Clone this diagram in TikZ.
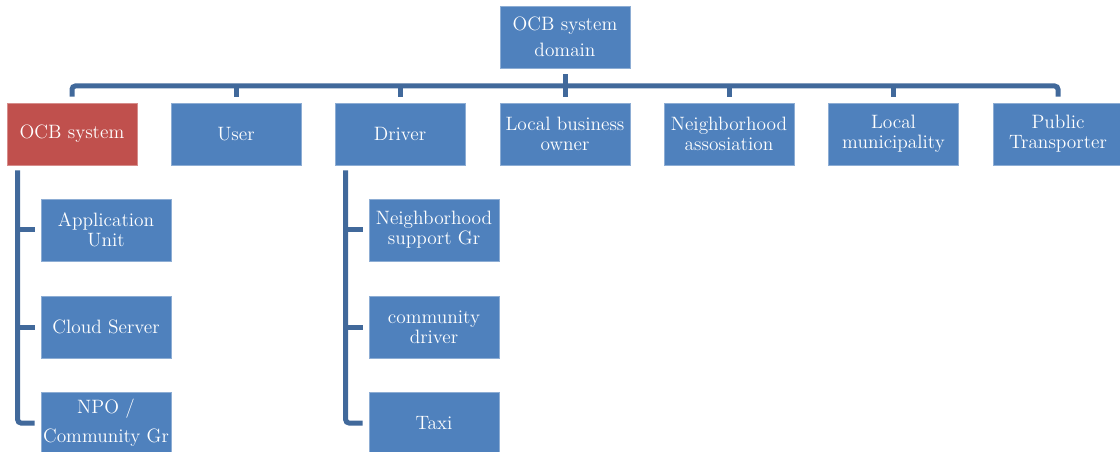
\documentclass[tikz,border=0pt]{standalone}
\usepackage{tikz}
\definecolor{boxblue}{RGB}{79,129,189}
\definecolor{boxred}{RGB}{192,80,77}
\definecolor{linkblue}{RGB}{65,105,155}
\begin{document}
\begin{tikzpicture}[x=0.75pt,y=-0.75pt,
  unit/.style={rectangle, fill=boxblue, draw=white!35!boxblue, line width=0.5pt,
    minimum width=97.5pt, minimum height=46.5pt, inner sep=0pt, align=center,
    text=white, font=\fontsize{14.5}{15}\selectfont},
  redunit/.style={unit, fill=boxred, draw=white!35!boxred},
  link/.style={draw=linkblue, line width=3.75pt, line cap=butt}]
\useasboundingbox (0,0) rectangle (1120,452);

% top of the hierarchy
\node[unit, font=\fontsize{14.5}{19.5}\selectfont] (root) at (565,37) {OCB system\\domain};

% first level
\node[redunit] (ocb)  at (72,134)    {OCB system};
\node[unit]    (user) at (236,134)   {User};
\node[unit]    (drv)  at (400,134)   {Driver};
\node[unit]    (lbo)  at (565,134)   {Local business\\owner};
\node[unit]    (nba)  at (729,134)   {Neighborhood\\assosiation};
\node[unit]    (mun)  at (893.5,134) {Local\\municipality};
\node[unit]    (pub)  at (1058,134)  {Public\\Transporter};

% second level under OCB system
\node[unit] (app)   at (106,230) {Application\\Unit};
\node[unit] (cloud) at (106,327) {Cloud Server};
\node[unit, font=\fontsize{14.5}{21.5}\selectfont] (npo) at (106,423) {NPO /\\Community Gr};

% second level under Driver
\node[unit] (nsg)  at (434,230) {Neighborhood\\support Gr};
\node[unit] (cdrv) at (434,327) {community\\driver};
\node[unit] (taxi) at (434,423) {Taxi};

% horizontal bus joining the first level
\coordinate (bus) at (565,86);
\draw[link, rounded corners=2.5pt] ([yshift=4.5pt]ocb.north) |- (bus) -| ([yshift=4.5pt]pub.north);
\draw[link] ([yshift=-4.5pt]root.south) -- ([yshift=4.5pt]lbo.north);
\foreach \n in {user, drv, nba, mun}
  \draw[link] (bus -| \n.north) -- ([yshift=4.5pt]\n.north);

% trunk under OCB system
\coordinate (ltrunk) at ([xshift=8.25pt, yshift=-3.75pt]ocb.south west);
\draw[link, rounded corners=2.5pt] (ltrunk) |- ([xshift=-4.5pt]npo.west);
\foreach \n in {app, cloud}
  \draw[link] (ltrunk |- \n.west) -- ([xshift=-4.5pt]\n.west);

% trunk under Driver
\coordinate (rtrunk) at ([xshift=8.25pt, yshift=-3.75pt]drv.south west);
\draw[link, rounded corners=2.5pt] (rtrunk) |- ([xshift=-4.5pt]taxi.west);
\foreach \n in {nsg, cdrv}
  \draw[link] (rtrunk |- \n.west) -- ([xshift=-4.5pt]\n.west);
\end{tikzpicture}
\end{document}
